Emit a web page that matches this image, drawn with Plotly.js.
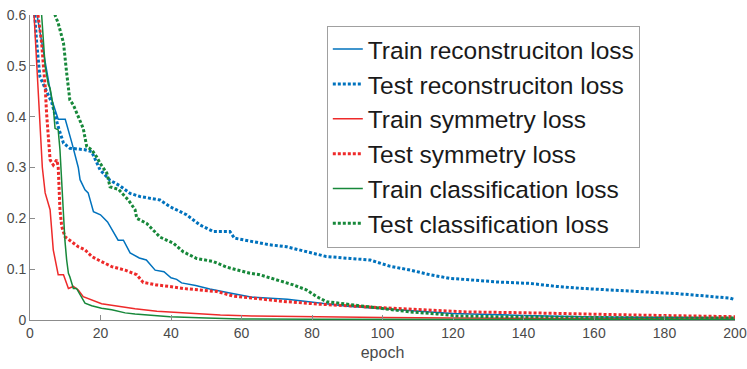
<!DOCTYPE html>
<html>
<head>
<meta charset="utf-8">
<script src="https://cdn.plot.ly/plotly-3.0.1.min.js"></script>
<style>
  html, body { margin: 0; padding: 0; background: #fff; }
  #chart { width: 747px; height: 369px; }
</style>
</head>
<body>
<div id="chart"></div>
<script>
// values (epoch, loss)
const trainRecEpoch = [1, 2, 4.5, 6.2, 8, 10, 11.9, 13.7, 14.2, 15.6, 16.5, 18, 20, 22, 25, 26.5, 28.4, 31, 33, 35.5, 38, 40, 41.6, 43, 47, 51, 56.7, 63, 73, 82, 90, 100, 110, 120, 140, 160, 180, 200];
const trainRecLoss  = [0.66, 0.6, 0.5, 0.433, 0.395, 0.395, 0.348, 0.30, 0.276, 0.256, 0.25, 0.213, 0.207, 0.193, 0.157, 0.157, 0.132, 0.122, 0.118, 0.098, 0.095, 0.083, 0.08, 0.073, 0.068, 0.061, 0.053, 0.045, 0.041, 0.033, 0.027, 0.022, 0.017, 0.013, 0.009, 0.006, 0.005, 0.004];

const testRecEpoch = [1, 1.4, 1.9, 2.4, 2.8, 4.3, 6.2, 8, 9.5, 11.3, 14.2, 15.6, 17.5, 19.9, 22.7, 25.5, 28.4, 31.2, 36.9, 39.7, 44.4, 48.2, 52, 56.7, 58, 63.3, 68, 72.8, 78.5, 84, 90.8, 96.5, 102, 108, 113.5, 119, 125, 132, 141.8, 149.4, 157, 163.6, 170.2, 177.8, 183.5, 189, 193, 198.6, 200];
const testRecLoss  = [0.62, 0.594, 0.545, 0.499, 0.479, 0.456, 0.427, 0.38, 0.348, 0.338, 0.335, 0.335, 0.331, 0.295, 0.275, 0.264, 0.249, 0.243, 0.236, 0.223, 0.207, 0.187, 0.174, 0.174, 0.161, 0.154, 0.148, 0.144, 0.134, 0.125, 0.121, 0.118, 0.106, 0.098, 0.089, 0.082, 0.079, 0.075, 0.072, 0.066, 0.062, 0.059, 0.056, 0.054, 0.052, 0.049, 0.046, 0.043, 0.04];

const trainSymEpoch = [1, 3.5, 4.3, 5.2, 5.7, 6.6, 7.6, 8, 9.5, 10.4, 10.9, 12.3, 13.7, 15.1, 17.5, 20.3, 24.1, 29.8, 36, 44.5, 54, 63, 82, 100, 120, 150, 200];
const trainSymLoss  = [0.62, 0.3, 0.25, 0.23, 0.217, 0.138, 0.098, 0.089, 0.089, 0.072, 0.062, 0.066, 0.059, 0.046, 0.039, 0.032, 0.028, 0.022, 0.017, 0.013, 0.01, 0.008, 0.006, 0.005, 0.004, 0.003, 0.002];

const testSymEpoch = [1.9, 2.4, 3.3, 3.8, 4.3, 4.7, 5.2, 5.7, 6.6, 7.6, 8, 8.5, 9, 9.9, 11.8, 13.7, 15.6, 17.5, 19.4, 23.2, 27, 30.3, 32.1, 35.9, 39.7, 43.5, 48.2, 53, 57.7, 65.2, 72.8, 82.3, 87, 100, 123, 136, 142, 170, 200];
const testSymLoss  = [0.62, 0.59, 0.545, 0.5, 0.46, 0.407, 0.354, 0.315, 0.305, 0.315, 0.302, 0.217, 0.184, 0.164, 0.154, 0.144, 0.138, 0.125, 0.118, 0.105, 0.098, 0.089, 0.074, 0.069, 0.066, 0.062, 0.059, 0.056, 0.047, 0.041, 0.036, 0.031, 0.029, 0.024, 0.016, 0.015, 0.014, 0.01, 0.0065];

const trainClsEpoch = [3, 3.3, 4.3, 5.2, 5.7, 6.6, 7.1, 8, 8.5, 9, 9.4, 9.9, 10.4, 10.9, 11.3, 12.3, 13.2, 14.2, 15.6, 17.5, 20.3, 23.2, 27, 29.8, 39.7, 50, 60, 80, 100, 150, 200];
const trainClsLoss  = [0.66, 0.6, 0.499, 0.463, 0.456, 0.42, 0.377, 0.374, 0.335, 0.27, 0.2, 0.157, 0.118, 0.092, 0.085, 0.062, 0.062, 0.049, 0.033, 0.028, 0.023, 0.02, 0.014, 0.012, 0.0065, 0.004, 0.002, 0.0015, 0.001, 0.001, 0.001];

const testClsEpoch = [6, 7.1, 8, 9.5, 10.4, 11.3, 12.3, 14.2, 15.1, 16.1, 17.5, 18.9, 19.9, 21.8, 22.7, 25.1, 27.9, 29.8, 30.3, 33.1, 36.9, 40.7, 43.5, 47.3, 52, 55.8, 59.6, 62.4, 65.2, 69, 74.7, 78.5, 81.3, 84.2, 90.8, 99.3, 107.8, 115.4, 121, 132, 150, 175, 200];
const testClsLoss  = [0.7, 0.6, 0.584, 0.545, 0.486, 0.433, 0.423, 0.394, 0.377, 0.341, 0.335, 0.321, 0.308, 0.289, 0.262, 0.257, 0.236, 0.217, 0.2, 0.19, 0.163, 0.151, 0.134, 0.121, 0.115, 0.104, 0.097, 0.092, 0.089, 0.081, 0.069, 0.059, 0.046, 0.036, 0.03, 0.023, 0.016, 0.012, 0.008, 0.0065, 0.005, 0.004, 0.004];

const seriesNames = ['Train reconstruciton loss', 'Test reconstruciton loss', 'Train symmetry loss',
                     'Test symmetry loss', 'Train classification loss', 'Test classification loss'];

// colours (MATLAB-ish)
const blue  = '#0072BD';
const red   = '#EE2A2A';
const green = '#17883A';
const axisGray = '#8c8c8c';
const textGray = '#4a4a4a';

const solid  = { width: 1.5, dash: 'solid' };
const dotted = { width: 3, dash: '3px,2px' };

function line(x, y, i, color, style) {
  return {
    x: x, y: y, name: seriesNames[i],
    type: 'scatter', mode: 'lines',
    line: Object.assign({ color: color }, style),
    legendgroup: 'g' + i
  };
}

const traces = [
  line(trainRecEpoch, trainRecLoss, 0, blue, solid),
  line(testRecEpoch, testRecLoss, 1, blue, dotted),
  line(trainSymEpoch, trainSymLoss, 2, red, solid),
  line(testSymEpoch, testSymLoss, 3, red, dotted),
  line(trainClsEpoch, trainClsLoss, 4, green, solid),
  line(testClsEpoch, testClsLoss, 5, green, dotted)
];

const layout = {
  width: 747, height: 369,
  margin: { l: 30, r: 12, t: 15, b: 49 },
  paper_bgcolor: '#fff',
  plot_bgcolor: '#fff',
  font: { family: 'Liberation Sans, Arial, sans-serif', color: textGray },
  xaxis: {
    range: [0, 200], tickvals: [0, 20, 40, 60, 80, 100, 120, 140, 160, 180, 200],
    showgrid: false, zeroline: false, showline: true, linecolor: axisGray, linewidth: 1,
    ticks: 'inside', ticklen: 5, tickcolor: axisGray,
    tickfont: { size: 14, color: textGray },
    title: { text: 'epoch', font: { size: 16, color: textGray }, standoff: 7 }
  },
  yaxis: {
    range: [0, 0.6], tickvals: [0, 0.1, 0.2, 0.3, 0.4, 0.5, 0.6],
    showgrid: false, zeroline: false, showline: true, linecolor: axisGray, linewidth: 1,
    ticks: 'inside', ticklen: 5, tickcolor: axisGray,
    tickfont: { size: 14, color: textGray }
  },
  showlegend: true,
  legend: {
    x: 0.421, y: 0.965, xanchor: 'left', yanchor: 'top',
    bgcolor: '#fff', bordercolor: '#a0a0a0', borderwidth: 1,
    font: { size: 24.5, color: '#1a1a1a' },
    itemwidth: 30, tracegroupgap: 0,
    traceorder: 'grouped'
  }
};

Plotly.newPlot('chart', traces, layout, { displayModeBar: false, staticPlot: true });
</script>
</body>
</html>
